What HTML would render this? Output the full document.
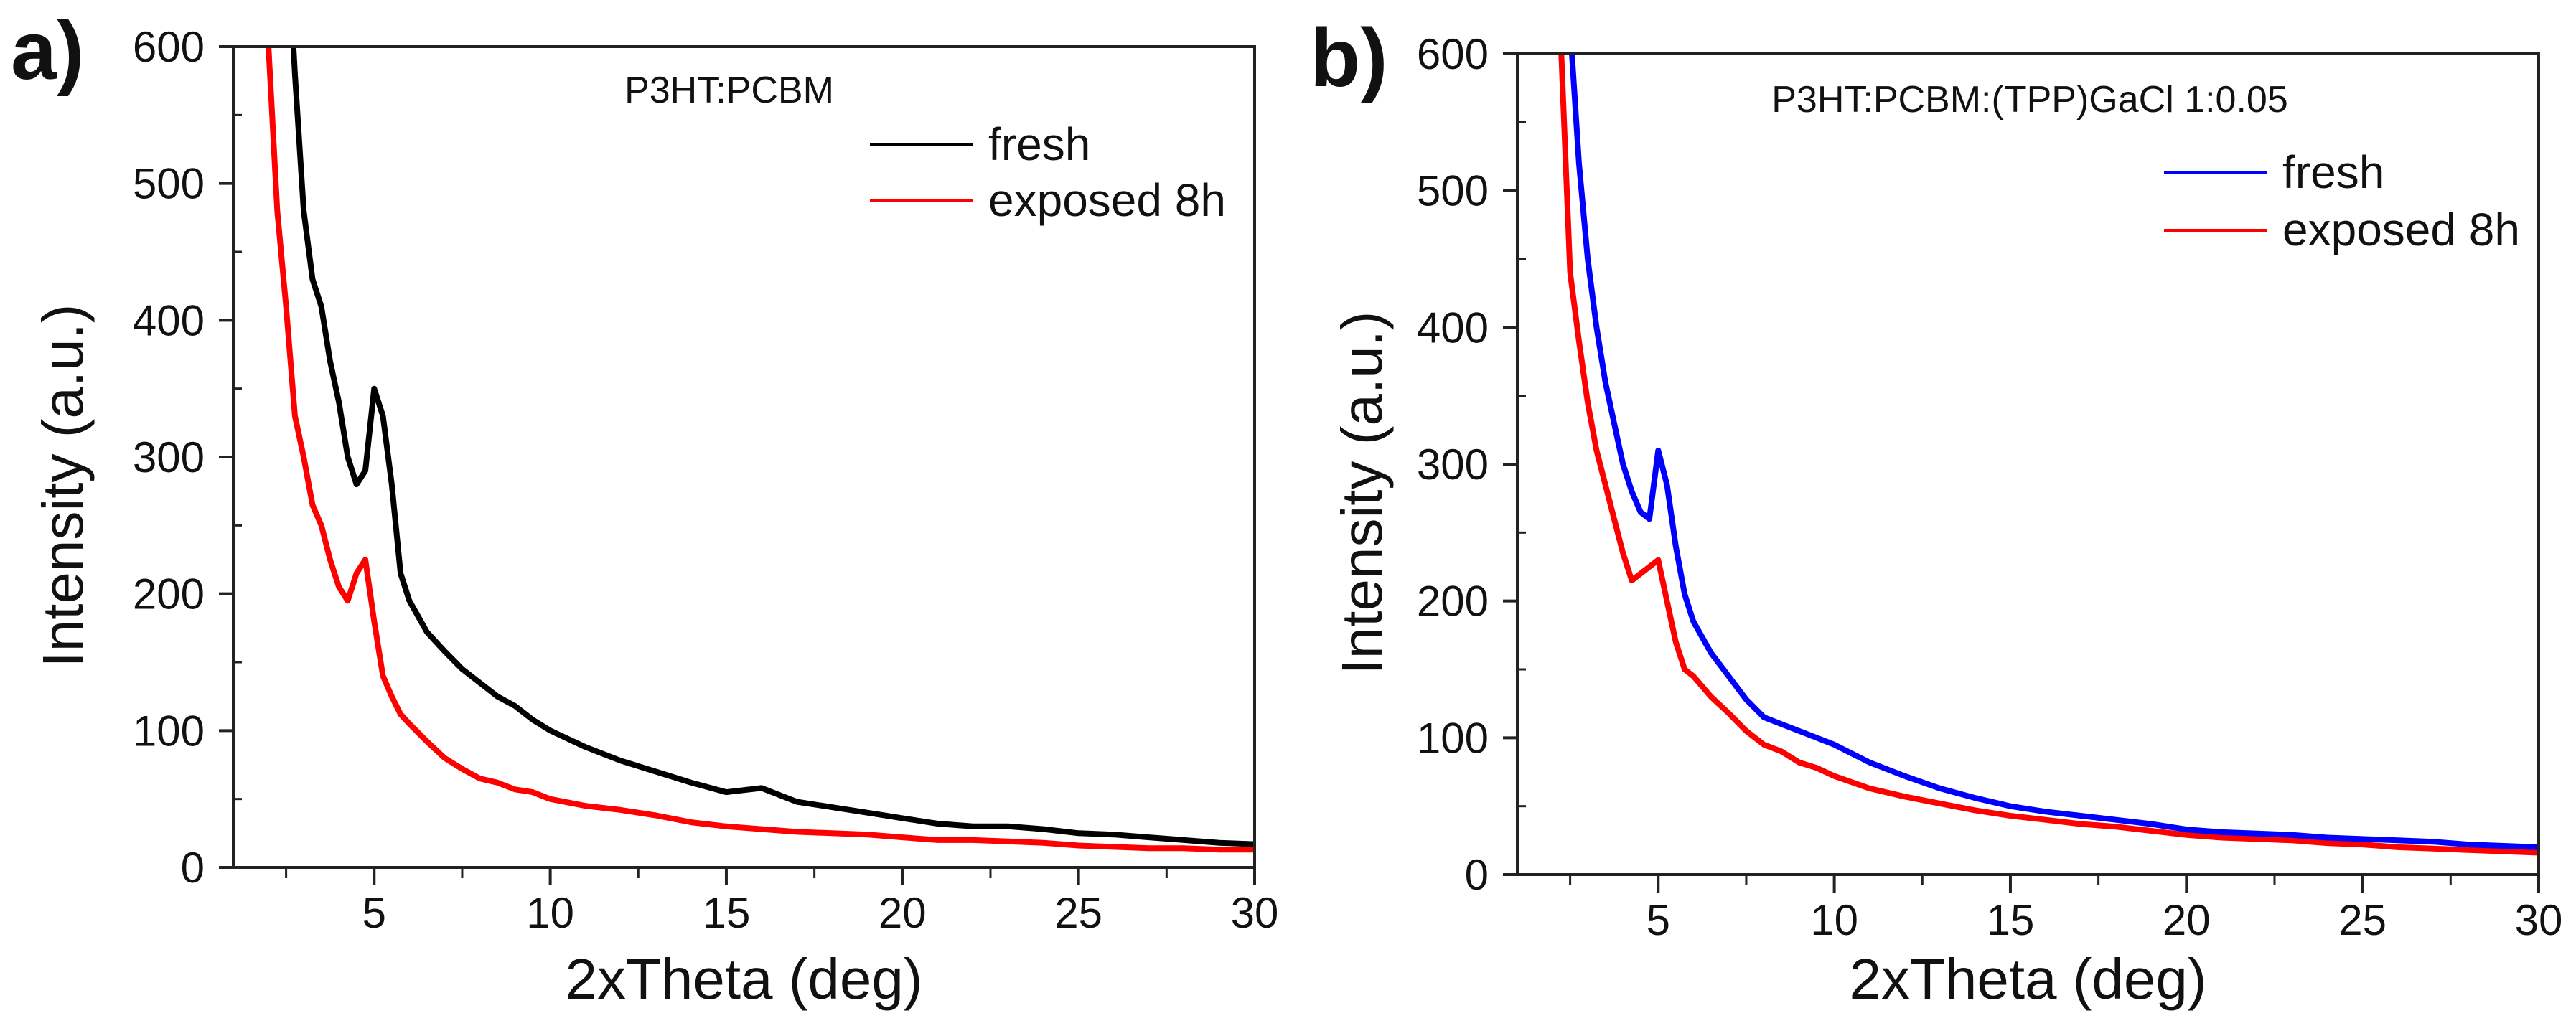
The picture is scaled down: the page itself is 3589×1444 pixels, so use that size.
<!DOCTYPE html>
<html><head><meta charset="utf-8">
<style>
html,body{margin:0;padding:0;background:#fff;}
svg{display:block;font-family:"Liberation Sans",sans-serif;}
</style></head>
<body>
<svg id="fig" width="3589" height="1444" viewBox="0 0 3589 1444" xmlns="http://www.w3.org/2000/svg"></svg>
<script>
// shared x grid (2xTheta, deg)
const xGrid = [2,2.25,2.5,2.75,3,3.25,3.5,3.75,4,4.25,4.5,4.75,5,5.25,5.5,5.75,6,6.5,7,7.5,8,8.5,9,9.5,10,11,12,13,14,15,16,17,18,19,20,21,22,23,24,25,26,27,28,29,30];
// panel a
const aFresh   = [900,800,700,580,480,430,410,370,340,300,280,290,350,330,280,215,195,172,158,145,135,125,118,108,100,88,78,70,62,55,58,48,44,40,36,32,30,30,28,25,24,22,20,18,17];
const aExposed = [600,480,410,330,300,265,250,225,205,195,215,225,180,140,125,112,105,92,80,72,65,62,57,55,50,45,42,38,33,30,28,26,25,24,22,20,20,19,18,16,15,14,14,13,13];
// panel b
const bFresh   = [900,900,620,520,450,400,360,330,300,280,265,260,310,285,240,205,185,162,145,128,115,110,105,100,95,82,72,63,56,50,46,43,40,37,33,31,30,29,27,26,25,24,22,21,20];
const bExposed = [900,600,440,390,345,310,285,260,235,215,220,225,230,200,170,150,145,130,118,105,95,90,82,78,72,63,57,52,47,43,40,37,35,32,29,27,26,25,23,22,20,19,18,17,16];
const yTicks = [0,100,200,300,400,500,600];
const xTicks = [5,10,15,20,25,30];

const NS="http://www.w3.org/2000/svg";
const svg=document.getElementById('fig');
function mk(tag,attrs,parent){const e=document.createElementNS(NS,tag);for(const k in attrs)e.setAttribute(k,attrs[k]);(parent||svg).appendChild(e);return e;}

function panel(id,L,T,R,B,letter,letterX,title,titleX,titleY,s1,c1,s2,c2,legX,legY1,legY2){
  const g=mk('g',{});
  
  
  const xS=v=>L+(v-1)/(30-1)*(R-L);
  const yS=v=>B-v/600*(B-T);
  const cp=mk('clipPath',{id:'clip'+id},g);
  mk('rect',{x:L,y:T,width:R-L,height:B-T},cp);
  function series(vals,color,name){
    let d='';
    vals.forEach((v,i)=>{d+=(i?'L':'M')+xS(xGrid[i]).toFixed(1)+' '+yS(v).toFixed(1);});
    const p=mk('path',{d:d,fill:'none',stroke:color,'stroke-width':8,'stroke-linejoin':'round','clip-path':'url(#clip'+id+')'},g);
    
    
  }
  series(s2,c2,'series-exposed-8h-'+id);
  series(s1,c1,'series-fresh-'+id);
  const fr=mk('rect',{x:L,y:T,width:R-L,height:B-T,fill:'none',stroke:'#222','stroke-width':4},g);
  
  
  yTicks.forEach(v=>{
    mk('line',{x1:L-20,x2:L,y1:yS(v),y2:yS(v),stroke:'#222','stroke-width':4},g);
    const t=mk('text',{x:L-40,y:yS(v)+21,'font-size':60,'text-anchor':'end',fill:'#111'},g);
    t.textContent=v;
    
    
  });
  for(let v=50;v<600;v+=100){mk('line',{x1:L,x2:L+12,y1:yS(v),y2:yS(v),stroke:'#222','stroke-width':3},g);}
  xTicks.forEach(v=>{
    mk('line',{x1:xS(v),x2:xS(v),y1:B,y2:B+25,stroke:'#222','stroke-width':4},g);
    const t=mk('text',{x:xS(v),y:B+84,'font-size':60,'text-anchor':'middle',fill:'#111'},g);
    t.textContent=v;
    
    
  });
  for(let v=2.5;v<30;v+=5){mk('line',{x1:xS(v),x2:xS(v),y1:B,y2:B+15,stroke:'#222','stroke-width':3},g);}
  const xt=mk('text',{x:(L+R)/2,y:1392,'font-size':80,'text-anchor':'middle',fill:'#111'},g);
  xt.textContent='2xTheta (deg)';
  
  
  const yx=letterX+100, yc=(T+B)/2+40;
  const yt=mk('text',{x:yx,y:yc,'font-size':80,'text-anchor':'middle',fill:'#111',transform:'rotate(-90 '+yx+' '+yc+')'},g);
  yt.textContent='Intensity (a.u.)';
  
  
  const lt=mk('text',{x:letterX,y:T+45,'font-size':115,'font-weight':'bold',fill:'#111'},g);
  lt.textContent=letter;
  
  
  const tt=mk('text',{x:titleX,y:titleY,'font-size':52,'text-anchor':'middle',fill:'#111'},g);
  tt.textContent=title;
  
  
  [[legY1,c1,'fresh'],[legY2,c2,'exposed 8h']].forEach(([y,c,lab])=>{
    mk('line',{x1:legX,x2:legX+143,y1:y,y2:y,stroke:c,'stroke-width':4},g);
    const t=mk('text',{x:legX+165,y:y+21,'font-size':64,fill:'#111'},g);
    t.textContent=lab;
    
    
  });
}
panel('a',325,65,1748,1209,'a)',15,'P3HT:PCBM',1016,143,aFresh,'#000',aExposed,'#ff0000',1212,202,280);
panel('b',2114,75,3537,1219,'b)',1825,'P3HT:PCBM:(TPP)GaCl 1:0.05',2828,156,bFresh,'#0000ff',bExposed,'#ff0000',3015,241,321);
</script>
</body></html>
